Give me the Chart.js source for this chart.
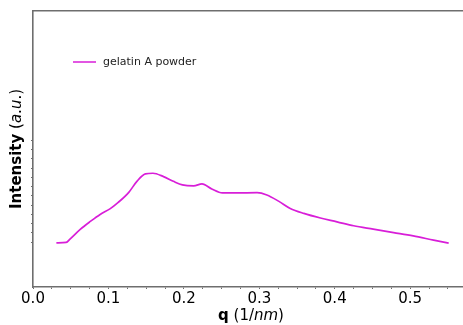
<!DOCTYPE html>
<html>
<head>
<meta charset="utf-8">
<script src="https://cdn.jsdelivr.net/npm/chart.js@4"></script>
<style>
    html, body { margin: 0; padding: 0; background: #fff; overflow: hidden; }
    #wrap { width: 463px; height: 325px; }
</style>
</head>
<body>
<div id="wrap"><canvas id="saxsChart" width="463" height="325"></canvas></div>
<script>
// Scattering curve (q in 1/nm, intensity in arbitrary units)
const qValues = [0.031, 0.044, 0.049, 0.063, 0.076, 0.089, 0.102, 0.113, 0.127, 0.138,
    0.149, 0.159, 0.173, 0.186, 0.198, 0.213, 0.224, 0.237, 0.251, 0.270,
    0.297, 0.310, 0.326, 0.341, 0.359, 0.381, 0.403, 0.425, 0.451, 0.478,
    0.504, 0.531, 0.551];
const intensityValues = [4.92, 4.98, 5.33, 6.41, 7.24, 8.00, 8.60, 9.30, 10.39, 11.60,
    12.38, 12.45, 12.09, 11.58, 11.19, 11.08, 11.30, 10.75, 10.32, 10.32,
    10.35, 10.10, 9.41, 8.65, 8.11, 7.61, 7.20, 6.77, 6.41, 6.04,
    5.68, 5.22, 4.89];

const seriesLabel = 'gelatin A powder';
const xMajorTicks = [0, 0.1, 0.2, 0.3, 0.4, 0.5];
const xTickLabels = ['0.0', '0.1', '0.2', '0.3', '0.4', '0.5'];
const xMinorTicks = [0.025, 0.05, 0.075, 0.125, 0.15, 0.175, 0.225, 0.25, 0.275,
    0.325, 0.35, 0.375, 0.425, 0.45, 0.475, 0.525, 0.55];
const yTicks = [5, 6, 7, 8, 9, 10, 11, 12, 13, 14, 15, 16];

const lineColor = '#d81ed8';
const axisColor = '#6e6e6e';
const fontFamily = '"DejaVu Sans", sans-serif';

// axis titles with mixed bold / italic parts, plus the in-plot legend
const decorations = {
    id: 'decorations',
    afterDraw(chart) {
        const ctx = chart.ctx;
        const area = chart.chartArea;

        const drawParts = (parts) => {
            let total = 0;
            parts.forEach(p => { ctx.font = p.font; total += ctx.measureText(p.text).width; });
            let x = -total / 2;
            parts.forEach(p => {
                ctx.font = p.font;
                ctx.fillText(p.text, x, 0);
                x += ctx.measureText(p.text).width;
            });
        };

        ctx.save();
        ctx.fillStyle = '#000';
        ctx.textBaseline = 'middle';
        ctx.textAlign = 'left';

        // y title
        ctx.save();
        ctx.translate(17, (area.top + area.bottom) / 2);
        ctx.rotate(-Math.PI / 2);
        drawParts([
            { text: 'Intensity', font: 'bold 15px ' + fontFamily },
            { text: ' (', font: '15px ' + fontFamily },
            { text: 'a', font: 'italic 15px ' + fontFamily },
            { text: '.', font: '15px ' + fontFamily },
            { text: 'u', font: 'italic 15px ' + fontFamily },
            { text: '.)', font: '15px ' + fontFamily }
        ]);
        ctx.restore();

        // x title
        ctx.save();
        ctx.translate(251, 316);
        drawParts([
            { text: 'q', font: 'bold 15px ' + fontFamily },
            { text: ' (1/', font: '15px ' + fontFamily },
            { text: 'nm', font: 'italic 15px ' + fontFamily },
            { text: ')', font: '15px ' + fontFamily }
        ]);
        ctx.restore();

        // legend
        const ds = chart.data.datasets[0];
        const lx = area.left + 40;
        const ly = area.top + 51;
        ctx.strokeStyle = ds.borderColor;
        ctx.lineWidth = 1.5;
        ctx.beginPath();
        ctx.moveTo(lx, ly);
        ctx.lineTo(lx + 23, ly);
        ctx.stroke();
        ctx.font = '11px ' + fontFamily;
        ctx.fillStyle = '#222';
        ctx.fillText(ds.label, lx + 30, ly);
        ctx.restore();
    }
};

const ctx = document.getElementById('saxsChart').getContext('2d');
new Chart(ctx, {
    type: 'line',
    data: {
        datasets: [{
            label: seriesLabel,
            data: qValues.map((q, i) => ({ x: q, y: intensityValues[i] })),
            borderColor: lineColor,
            borderWidth: 1.7,
            pointRadius: 0,
            cubicInterpolationMode: 'monotone',
            fill: false
        }]
    },
    options: {
        responsive: false,
        animation: false,
        layout: { padding: 0 },
        scales: {
            x: {
                type: 'linear',
                position: 'bottom',
                min: 0,
                max: 0.57,
                afterBuildTicks: (scale) => {
                    scale.ticks = xMajorTicks.concat(xMinorTicks)
                        .sort((a, b) => a - b)
                        .map(v => ({ value: v }));
                },
                afterFit: (scale) => { scale.height = 38; },
                ticks: {
                    autoSkip: false,
                    maxRotation: 0,
                    includeBounds: false,
                    padding: 1,
                    color: '#000',
                    font: { family: fontFamily, size: 15 },
                    callback: function(value) {
                        const i = xMajorTicks.findIndex(t => Math.abs(t - value) < 1e-6);
                        return i >= 0 ? xTickLabels[i] : '';
                    }
                },
                grid: { drawOnChartArea: false, tickLength: 2, color: axisColor },
                border: { color: axisColor, width: 1.6 }
            },
            xTop: {
                type: 'linear',
                position: 'top',
                min: 0,
                max: 0.57,
                afterFit: (scale) => { scale.height = 11; },
                ticks: { display: false },
                grid: { display: false, drawTicks: false },
                border: { color: axisColor, width: 1.6 }
            },
            y: {
                type: 'linear',
                min: 0.15,
                max: 30,
                afterBuildTicks: (scale) => {
                    scale.ticks = yTicks.map(v => ({ value: v }));
                },
                afterFit: (scale) => { scale.width = 33; },
                ticks: {
                    callback: () => ''
                },
                grid: { drawOnChartArea: false, tickLength: 2, color: axisColor },
                border: { color: axisColor, width: 1.6 }
            }
        },
        plugins: {
            legend: { display: false },
            tooltip: { enabled: false }
        }
    },
    plugins: [decorations]
});
</script>
</body>
</html>
